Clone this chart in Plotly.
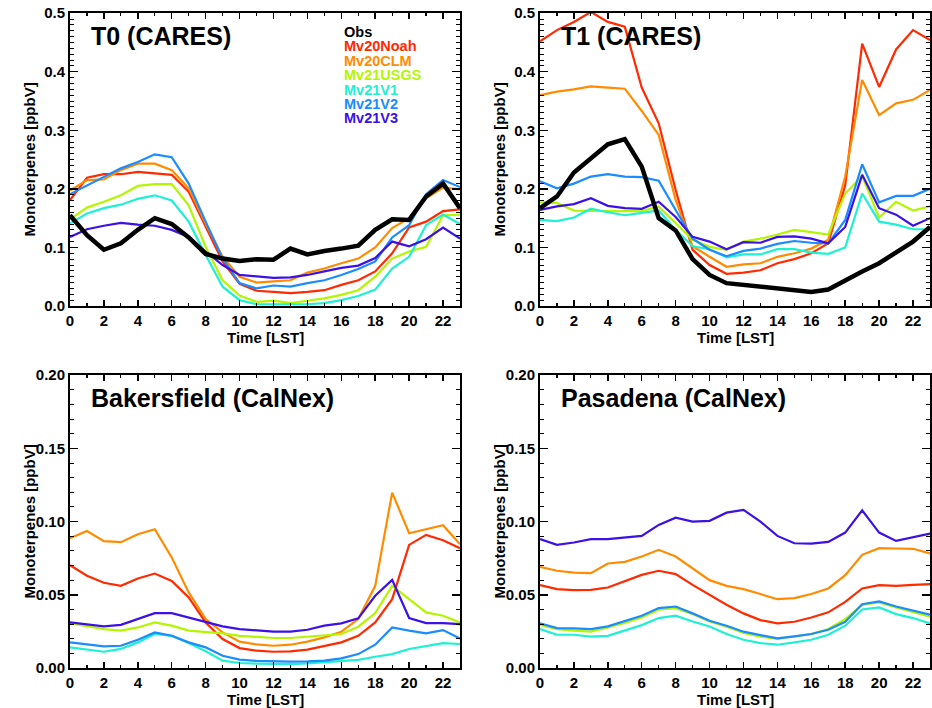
import plotly.graph_objects as go

hours = list(range(24))
series_names = ["Obs", "Mv20Noah", "Mv20CLM", "Mv21USGS", "Mv21V1", "Mv21V2", "Mv21V3"]
colors = ["#000000", "#ff2a00", "#ff8c00", "#b4f500", "#1ef0d2", "#1a8cff", "#3c10e6"]

# T0 (CARES)
t0_obs = [0.155, 0.121, 0.096, 0.107, 0.130, 0.150, 0.140, 0.117, 0.089, 0.081, 0.077, 0.080,
          0.079, 0.098, 0.088, 0.094, 0.098, 0.103, 0.130, 0.148, 0.147, 0.187, 0.209, 0.167]
t0_noah = [0.181, 0.219, 0.225, 0.225, 0.229, 0.226, 0.224, 0.195, 0.135, 0.076, 0.038, 0.026,
           0.024, 0.022, 0.024, 0.027, 0.036, 0.044, 0.059, 0.090, 0.134, 0.144, 0.162, 0.165]
t0_clm = [0.197, 0.215, 0.216, 0.232, 0.243, 0.243, 0.232, 0.201, 0.141, 0.084, 0.050, 0.040,
          0.042, 0.044, 0.057, 0.064, 0.073, 0.081, 0.100, 0.133, 0.150, 0.184, 0.202, 0.199]
t0_usgs = [0.148, 0.168, 0.178, 0.189, 0.205, 0.208, 0.208, 0.172, 0.101, 0.044, 0.018, 0.007,
           0.009, 0.005, 0.009, 0.013, 0.019, 0.027, 0.050, 0.081, 0.093, 0.101, 0.155, 0.156]
t0_v1 = [0.141, 0.158, 0.167, 0.173, 0.183, 0.189, 0.180, 0.144, 0.087, 0.033, 0.010, 0.003,
         0.003, 0.003, 0.003, 0.005, 0.010, 0.017, 0.028, 0.064, 0.084, 0.138, 0.156, 0.140]
t0_v2 = [0.191, 0.206, 0.221, 0.235, 0.246, 0.259, 0.254, 0.209, 0.144, 0.081, 0.039, 0.030,
         0.035, 0.033, 0.039, 0.044, 0.053, 0.063, 0.076, 0.117, 0.138, 0.191, 0.215, 0.203]
t0_v3 = [0.118, 0.131, 0.137, 0.142, 0.139, 0.137, 0.130, 0.118, 0.093, 0.070, 0.053, 0.050,
         0.048, 0.049, 0.053, 0.059, 0.065, 0.069, 0.082, 0.110, 0.102, 0.114, 0.134, 0.115]

# T1 (CARES)
t1_obs = [0.167, 0.187, 0.228, 0.252, 0.276, 0.285, 0.238, 0.150, 0.129, 0.080, 0.053, 0.039,
          0.036, 0.033, 0.029, 0.026, 0.024, 0.028, 0.044, 0.059, 0.073, 0.091, 0.110, 0.135]
t1_noah = [0.452, 0.471, 0.485, 0.502, 0.485, 0.477, 0.373, 0.312, 0.198, 0.096, 0.070, 0.055,
           0.057, 0.061, 0.073, 0.080, 0.090, 0.107, 0.206, 0.448, 0.374, 0.438, 0.471, 0.454]
t1_clm = [0.360, 0.366, 0.370, 0.375, 0.373, 0.371, 0.333, 0.292, 0.181, 0.102, 0.084, 0.067,
          0.071, 0.073, 0.084, 0.090, 0.098, 0.113, 0.221, 0.386, 0.326, 0.346, 0.352, 0.369]
t1_usgs = [0.177, 0.176, 0.163, 0.162, 0.162, 0.162, 0.162, 0.170, 0.142, 0.113, 0.101, 0.096,
           0.110, 0.115, 0.122, 0.130, 0.126, 0.122, 0.192, 0.222, 0.151, 0.178, 0.163, 0.170]
t1_v1 = [0.147, 0.145, 0.151, 0.166, 0.160, 0.155, 0.159, 0.163, 0.130, 0.102, 0.097, 0.083,
         0.088, 0.088, 0.097, 0.097, 0.091, 0.089, 0.100, 0.192, 0.144, 0.139, 0.131, 0.131]
t1_v2 = [0.213, 0.201, 0.209, 0.221, 0.225, 0.221, 0.220, 0.214, 0.164, 0.115, 0.096, 0.085,
         0.094, 0.098, 0.106, 0.111, 0.108, 0.107, 0.147, 0.242, 0.177, 0.188, 0.188, 0.200]
t1_v3 = [0.164, 0.170, 0.174, 0.184, 0.171, 0.167, 0.166, 0.178, 0.152, 0.118, 0.110, 0.097,
         0.109, 0.108, 0.118, 0.119, 0.115, 0.107, 0.135, 0.224, 0.167, 0.156, 0.137, 0.150]

# Bakersfield (CalNex)
bak_noah = [0.0702, 0.0630, 0.0582, 0.0561, 0.0611, 0.0645, 0.0595, 0.0482, 0.0311, 0.0198, 0.0136, 0.0118,
            0.0111, 0.0114, 0.0125, 0.0148, 0.0175, 0.0220, 0.0311, 0.0470, 0.0841, 0.0909, 0.0873, 0.0818]
bak_clm = [0.0886, 0.0936, 0.0866, 0.0859, 0.0914, 0.0948, 0.0755, 0.0516, 0.0334, 0.0243, 0.0180, 0.0161,
           0.0152, 0.0159, 0.0180, 0.0209, 0.0248, 0.0334, 0.0561, 0.1198, 0.0920, 0.0948, 0.0975, 0.0845]
bak_usgs = [0.0307, 0.0289, 0.0266, 0.0255, 0.0277, 0.0311, 0.0289, 0.0255, 0.0248, 0.0236, 0.0220, 0.0214,
            0.0205, 0.0205, 0.0214, 0.0220, 0.0232, 0.0282, 0.0375, 0.0561, 0.0470, 0.0380, 0.0357, 0.0311]
bak_v1 = [0.0141, 0.0125, 0.0111, 0.0130, 0.0175, 0.0232, 0.0220, 0.0170, 0.0114, 0.0050, 0.0034, 0.0030,
          0.0027, 0.0027, 0.0032, 0.0039, 0.0045, 0.0055, 0.0077, 0.0095, 0.0130, 0.0152, 0.0170, 0.0164]
bak_v2 = [0.0175, 0.0159, 0.0148, 0.0152, 0.0193, 0.0243, 0.0220, 0.0175, 0.0141, 0.0084, 0.0057, 0.0048,
          0.0043, 0.0043, 0.0045, 0.0050, 0.0066, 0.0095, 0.0159, 0.0277, 0.0255, 0.0236, 0.0259, 0.0202]
bak_v3 = [0.0311, 0.0295, 0.0284, 0.0295, 0.0334, 0.0375, 0.0375, 0.0345, 0.0318, 0.0284, 0.0266, 0.0255,
          0.0248, 0.0248, 0.0261, 0.0289, 0.0305, 0.0339, 0.0493, 0.0602, 0.0341, 0.0307, 0.0307, 0.0300]

# Pasadena (CalNex)
pas_noah = [0.0566, 0.0539, 0.0532, 0.0534, 0.0550, 0.0595, 0.0636, 0.0664, 0.0641, 0.0568, 0.0500, 0.0432,
            0.0373, 0.0327, 0.0305, 0.0316, 0.0345, 0.0380, 0.0452, 0.0543, 0.0566, 0.0561, 0.0568, 0.0573]
pas_clm = [0.0691, 0.0664, 0.0652, 0.0648, 0.0714, 0.0725, 0.0761, 0.0807, 0.0761, 0.0680, 0.0600, 0.0561,
           0.0539, 0.0505, 0.0470, 0.0477, 0.0505, 0.0543, 0.0634, 0.0773, 0.0818, 0.0816, 0.0814, 0.0782]
pas_usgs = [0.0295, 0.0266, 0.0255, 0.0248, 0.0277, 0.0307, 0.0345, 0.0398, 0.0409, 0.0368, 0.0318, 0.0282,
            0.0239, 0.0214, 0.0198, 0.0214, 0.0232, 0.0266, 0.0334, 0.0432, 0.0448, 0.0414, 0.0384, 0.0350]
pas_v1 = [0.0266, 0.0227, 0.0227, 0.0214, 0.0220, 0.0255, 0.0293, 0.0341, 0.0357, 0.0318, 0.0284, 0.0232,
          0.0193, 0.0170, 0.0159, 0.0175, 0.0193, 0.0227, 0.0289, 0.0400, 0.0414, 0.0368, 0.0341, 0.0305]
pas_v2 = [0.0305, 0.0273, 0.0270, 0.0266, 0.0284, 0.0318, 0.0357, 0.0409, 0.0420, 0.0373, 0.0323, 0.0289,
          0.0248, 0.0225, 0.0202, 0.0216, 0.0232, 0.0261, 0.0316, 0.0436, 0.0455, 0.0420, 0.0391, 0.0364]
pas_v3 = [0.0880, 0.0841, 0.0857, 0.0880, 0.0880, 0.0889, 0.0902, 0.0977, 0.1027, 0.1000, 0.1005, 0.1061,
          0.1080, 0.1000, 0.0902, 0.0852, 0.0850, 0.0861, 0.0925, 0.1077, 0.0925, 0.0868, 0.0895, 0.0918]

panel_titles = ["T0 (CARES)", "T1 (CARES)", "Bakersfield (CalNex)", "Pasadena (CalNex)"]
panels = [
    {"Obs": t0_obs, "Mv20Noah": t0_noah, "Mv20CLM": t0_clm, "Mv21USGS": t0_usgs,
     "Mv21V1": t0_v1, "Mv21V2": t0_v2, "Mv21V3": t0_v3},
    {"Obs": t1_obs, "Mv20Noah": t1_noah, "Mv20CLM": t1_clm, "Mv21USGS": t1_usgs,
     "Mv21V1": t1_v1, "Mv21V2": t1_v2, "Mv21V3": t1_v3},
    {"Mv20Noah": bak_noah, "Mv20CLM": bak_clm, "Mv21USGS": bak_usgs,
     "Mv21V1": bak_v1, "Mv21V2": bak_v2, "Mv21V3": bak_v3},
    {"Mv20Noah": pas_noah, "Mv20CLM": pas_clm, "Mv21USGS": pas_usgs,
     "Mv21V1": pas_v1, "Mv21V2": pas_v2, "Mv21V3": pas_v3},
]
y_ranges = [[0, 0.5], [0, 0.5], [0, 0.2], [0, 0.2]]
top_yticks = [0.0, 0.1, 0.2, 0.3, 0.4, 0.5]
top_ylabels = ["0.0", "0.1", "0.2", "0.3", "0.4", "0.5"]
bottom_yticks = [0.0, 0.05, 0.10, 0.15, 0.20]
bottom_ylabels = ["0.00", "0.05", "0.10", "0.15", "0.20"]
y_tickvals = [top_yticks, top_yticks, bottom_yticks, bottom_yticks]
y_ticktext = [top_ylabels, top_ylabels, bottom_ylabels, bottom_ylabels]
x_ticks = list(range(0, 23, 2))

# The default 8px body margin is removed by a small post script, so the
# figure fills the whole 932x708 window.
W, H = 932, 708
FONT = "Liberation Sans, Arial, Helvetica, sans-serif"

# panel boxes in window pixels: (left, right, top, bottom)
boxes = [(70, 460, 13, 306), (540, 930, 13, 306), (70, 460, 375, 668), (540, 930, 375, 668)]


def px(xw):
    return xw / W


def py(yw):
    return 1 - yw / H


fig = go.Figure()
draw_order = ["Mv20Noah", "Mv20CLM", "Mv21USGS", "Mv21V1", "Mv21V2", "Mv21V3", "Obs"]
for i, data in enumerate(panels):
    xa = "x" if i == 0 else f"x{i+1}"
    ya = "y" if i == 0 else f"y{i+1}"
    for name in draw_order:
        if name not in data:
            continue
        c = colors[series_names.index(name)]
        fig.add_trace(go.Scatter(
            x=hours, y=data[name], mode="lines", name=name, showlegend=False,
            line=dict(color=c, width=4.5 if name == "Obs" else 2.2),
            xaxis=xa, yaxis=ya))

layout = {}
annotations = []
for i, (l, r, t, b) in enumerate(boxes):
    xk = "xaxis" if i == 0 else f"xaxis{i+1}"
    yk = "yaxis" if i == 0 else f"yaxis{i+1}"
    xa = "x" if i == 0 else f"x{i+1}"
    ya = "y" if i == 0 else f"y{i+1}"
    layout[xk] = dict(
        domain=[px(l), px(r)], anchor=ya, range=[0, 23], tickvals=x_ticks,
        ticks="inside", ticklen=6, tickwidth=1.5, tickcolor="black",
        minor=dict(dtick=1, tick0=0, ticks="inside", ticklen=3, tickwidth=1.2, tickcolor="black"),
        showline=True, linecolor="black", linewidth=2, mirror="ticks",
        showgrid=False, zeroline=False, automargin=False, ticklabeloverflow="allow",
        tickfont=dict(family=FONT, size=15, color="black", weight="bold"),
    )
    yr = y_ranges[i]
    layout[yk] = dict(
        domain=[py(b), py(t)], anchor=xa,
        range=[yr[0], yr[1] * 1.0005],
        tickvals=y_tickvals[i], ticktext=y_ticktext[i],
        ticks="inside", ticklen=8, tickwidth=1.5, tickcolor="black",
        minor=dict(dtick=0.01, tick0=0, ticks="inside", ticklen=4, tickwidth=1, tickcolor="black"),
        showline=True, linecolor="black", linewidth=2, mirror="ticks",
        showgrid=False, zeroline=False, automargin=False, ticklabeloverflow="allow",
        tickfont=dict(family=FONT, size=15, color="black", weight="bold"),
    )
    annotations.append(dict(
        text=panel_titles[i], xref="paper", yref="paper",
        x=px(l + 19), y=py(t + 7), xanchor="left", yanchor="top", showarrow=False,
        font=dict(family=FONT, size=25, color="black", weight="bold")))
    annotations.append(dict(
        text="Time [LST]", xref="paper", yref="paper",
        x=px((l + r) / 2), y=py(b + 31), xanchor="center", yanchor="middle", showarrow=False,
        font=dict(family=FONT, size=15, color="black", weight="bold")))
    annotations.append(dict(
        text="Monoterpenes [ppbV]", xref="paper", yref="paper", textangle=-90,
        x=px(l - 41), y=py((t + b) / 2), xanchor="center", yanchor="middle", showarrow=False,
        font=dict(family=FONT, size=15, color="black", weight="bold")))

for k, name in enumerate(series_names):
    annotations.append(dict(
        text=name, xref="paper", yref="paper",
        x=px(342), y=py(32 + k * 14.4), xanchor="left", yanchor="middle", showarrow=False,
        font=dict(family=FONT, size=14.5, color=colors[k], weight="bold")))

fig.update_layout(
    width=W, height=H, margin=dict(l=0, r=0, t=0, b=0),
    paper_bgcolor="white", plot_bgcolor="white",
    annotations=annotations, **layout)

fig.write_html(
    "out.html",
    config={"displayModeBar": False, "staticPlot": True},
    post_script="document.body.style.margin='0px';document.body.style.overflow='hidden';")
